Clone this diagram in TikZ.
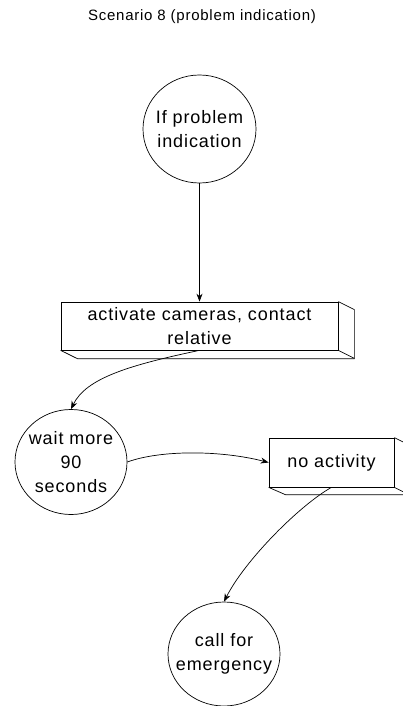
\documentclass[tikz,border=0pt]{standalone}
\usepackage{fontspec}
\setmainfont[LetterSpace=5]{Liberation Sans}
\usetikzlibrary{shapes.geometric,arrows.meta}
\begin{document}
\begin{tikzpicture}[x=1pt,y=-1pt,
  line width=0.7pt,
  txt/.style={font=\fontsize{18}{24}\selectfont, align=center, inner sep=0pt},
  state/.style={txt, draw, ellipse, inner xsep=-40pt, inner ysep=-40pt, minimum width=112pt, minimum height=106pt},
  boxthree/.style={txt, draw, rectangle},
  conn/.style={-{Stealth[length=8pt,width=6pt]}},
]
\useasboundingbox (0,0) rectangle (402,706);
\node[font=\fontsize{15}{17}\selectfont] (title) at (202,17) {Scenario 8 (problem indication)};

\node[state, minimum width=113pt, minimum height=108pt] (c1) at (199.5,129) {If problem\\indication};
\node[boxthree, minimum width=277pt, minimum height=48pt] (b1) at (199.5,326) {activate cameras, contact\\relative};
\draw (b1.north east) -- ++(16,8) -- ++(0,49) -- ++(-277,0) -- (b1.south west);
\draw (b1.south east) -- ++(16,8);

\node[state, minimum height=105pt] (c2) at (71,462) {wait more\\90\\seconds};
\node[boxthree, minimum width=125pt, minimum height=49pt] (b2) at (331.5,462.5) {no activity};
\draw (b2.north east) -- ++(16,8) -- ++(0,49) -- ++(-125,0) -- (b2.south west);
\draw (b2.south east) -- ++(16,8);

\node[state, minimum height=104pt] (c3) at (224,654) {call for\\emergency};

\draw[conn] (c1.south) -- (b1.north);
\draw[conn] (b1.south) .. controls (130,365) and (86,378) .. (c2.north);
\draw[conn] (c2.east) .. controls (160,450) and (220,450) .. (b2.west);
\draw[conn] (b2.south) .. controls (300,505) and (245,560) .. (c3.north);
\end{tikzpicture}
\end{document}
